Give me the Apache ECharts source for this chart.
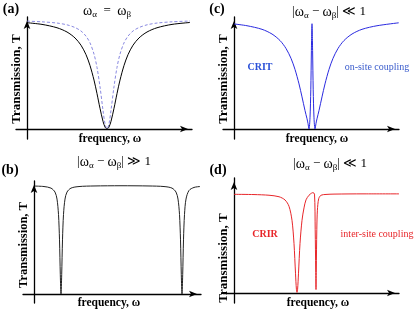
<!DOCTYPE html>
<html>
<head>
<meta charset="utf-8">
<script src="https://cdn.jsdelivr.net/npm/echarts@6.0.0/dist/echarts.min.js"></script>
<style>
html,body{margin:0;padding:0;background:#fff;}
#chart{width:415px;height:311px;}
</style>
</head>
<body>
<div id="chart"></div>
<script>
// ---- Data (frequency in arbitrary units, transmission T) ----
// Panel (a): omega_alpha = omega_beta
const aFreq  = [0,15,30,40,48,54,59,63,67,70,73,76,78,80,82,84,87,90,93,97,101,106,112,120,130,145,163];
const aBlack = [.949,.934,.904,.866,.813,.748,.664,.567,.437,.316,.185,.069,.018,0,.018,.069,.185,.316,.437,.567,.664,.748,.813,.866,.904,.934,.951];
const aBlue  = [.963,.957,.946,.930,.906,.875,.829,.769,.669,.550,.378,.167,.048,0,.048,.167,.378,.550,.669,.769,.829,.875,.906,.930,.946,.957,.964];

// Panel (b): |omega_alpha - omega_beta| >> 1
const bFreq = [1,10,17,21,23,24.5,25.5,26.3,27,27.7,28.5,29.5,31,33,37,45,60,87,115,130,138,142,144,145.5,146.5,147.3,148,148.7,149.5,150.5,152,155,160,166];
const bT    = [.955,.951,.937,.902,.840,.704,.479,.171,0,.171,.479,.704,.840,.902,.937,.951,.956,.958,.956,.951,.937,.902,.840,.704,.479,.171,0,.171,.479,.704,.840,.916,.943,.951];

// Panel (c): CRIT, on-site coupling
const cFreq = [0,13,28,38,46,52,57,61,65,68,71,73,74,75,76,76.8,77.4,78,78.6,79.2,80,81,82,83,85,88,91,95,99,104,110,118,128,143,164.7];
const cT    = [.938,.922,.890,.848,.790,.719,.631,.532,.403,.287,.165,.092,.05,0,.1,.35,.7,.94,.7,.35,.1,0,.05,.092,.165,.287,.403,.532,.631,.719,.790,.848,.890,.922,.948];

// Panel (d): CRIR, inter-site coupling
const dFreq = [0,20,35,45,51,55,58,60,61.5,62.4,63,63.6,64.5,66,68,70,72,75,77.5,79,80.5,81.2,81.7,82,82.3,82.8,83.4,84.7,87,92,100,130,165];
const dT    = [.858,.856,.850,.837,.809,.754,.632,.43,.172,.033,.005,.033,.172,.43,.632,.74,.81,.85,.868,.873,.86,.55,.2,.03,.2,.55,.72,.82,.85,.857,.86,.862,.862];

// ---- Texts ----
const panelLetters = ['(a)','(b)','(c)','(d)'];
const yLabel = 'Transmission, T';
const xLabel = 'frequency, ω';

function zip(xs, ys){ return xs.map((x,i)=>[x, ys[i]]); }

const SERIF = '"Liberation Serif","Times New Roman",serif';

// panel layout: grid box + axis ranges
const panels = [
  {left:16,  top:17,  width:176, height:122, xmin:-11, xmax:165, ymin:-0.089, ymax:1},   // a
  {left:23,  top:181, width:178, height:122, xmin:-11, xmax:167, ymin:-0.08,  ymax:1},   // b
  {left:223, top:17,  width:176, height:122, xmin:-11, xmax:165, ymin:-0.089, ymax:1},   // c
  {left:223, top:178, width:176, height:125, xmin:-11, xmax:165, ymin:-0.087, ymax:1}    // d
];

const axisLine = {
  show:true, onZero:true,
  symbol:['none','arrow'], symbolSize:[5,8], symbolOffset:[0,-4],
  lineStyle:{color:'#000', width:1.3}
};

const grids = panels.map(p=>({left:p.left, top:p.top, width:p.width, height:p.height}));
const xAxes = panels.map((p,i)=>({type:'value', gridIndex:i, min:p.xmin, max:p.xmax,
  axisLine:axisLine, axisTick:{show:false}, axisLabel:{show:false}, splitLine:{show:false}}));
const yAxes = panels.map((p,i)=>({type:'value', gridIndex:i, min:p.ymin, max:p.ymax,
  axisLine:axisLine, axisTick:{show:false}, axisLabel:{show:false}, splitLine:{show:false}}));

function lineSeries(idx, data, color, width, type){
  return {type:'line', xAxisIndex:idx, yAxisIndex:idx, data:data, showSymbol:false,
    smooth:0.3, clip:false, silent:true,
    lineStyle:{color:color, width:width, type:type||'solid'}};
}

const series = [
  lineSeries(0, zip(aFreq, aBlue), '#7c7cdc', 0.9, [3,2]),
  lineSeries(0, zip(aFreq, aBlack), '#000000', 1),
  lineSeries(1, zip(bFreq, bT), '#222222', 1),
  lineSeries(2, zip(cFreq, cT), '#2a2ae0', 1),
  lineSeries(3, zip(dFreq, dT), '#e8262a', 1)
];

function txt(x, y, text, font, fill, rot, rich){
  const st = {text:text, font:font, fill:fill||'#000', align:'center', verticalAlign:'middle',
              textAlign:'center', textVerticalAlign:'middle'};
  if (rich) st.rich = rich;
  return {type:'text', x:x, y:y, rotation:rot||0, silent:true, style:st};
}

const subRich = {
  w:{fontSize:14, fontFamily:SERIF, lineHeight:16, verticalAlign:'middle'},
  s:{fontSize:9, fontFamily:SERIF, lineHeight:16, verticalAlign:'bottom'}
};
const titleFont = '13px ' + SERIF;
const labFont = 'bold 14px ' + SERIF;
const yFont = 'bold 13px ' + SERIF;
const xFont = 'bold 11.5px ' + SERIF;

const graphics = [
  txt(11, 9, panelLetters[0], labFont),
  txt(10, 170, panelLetters[1], labFont),
  txt(217, 9, panelLetters[2], labFont),
  txt(218, 170, panelLetters[3], labFont),

  txt(107, 11, '{w|ω}{s|α}  =  {w|ω}{s|β}', titleFont, '#000', 0, subRich),
  txt(114, 162, '|{w|ω}{s|α} − {w|ω}{s|β}| ≫ 1', titleFont, '#000', 0, subRich),
  txt(329, 12, '|{w|ω}{s|α} − {w|ω}{s|β}| ≪ 1', titleFont, '#000', 0, subRich),
  txt(330, 164, '|{w|ω}{s|α} − {w|ω}{s|β}| ≪ 1', titleFont, '#000', 0, subRich),

  txt(17, 79, yLabel, yFont, '#000', Math.PI/2),
  txt(24, 245, yLabel, 'bold 12.5px ' + SERIF, '#000', Math.PI/2),
  txt(224, 79, yLabel, yFont, '#000', Math.PI/2),
  txt(224, 258, yLabel, yFont, '#000', Math.PI/2),

  txt(110, 139.5, xLabel, xFont),
  txt(109, 303, xLabel, xFont),
  txt(317, 139.5, xLabel, xFont),
  txt(318, 303, xLabel, xFont),

  txt(260, 67, 'CRIT', 'bold 10px ' + SERIF, '#2a50d8'),
  txt(377, 67, 'on-site coupling', '10px ' + SERIF, '#3a5ccc'),
  txt(265, 234, 'CRIR', 'bold 10px ' + SERIF, '#e8262a'),
  txt(377, 234, 'inter-site coupling', '10px ' + SERIF, '#e8262a')
];

const chart = echarts.init(document.getElementById('chart'), null, {renderer:'canvas'});
chart.setOption({
  animation:false,
  backgroundColor:'#fff',
  grid:grids, xAxis:xAxes, yAxis:yAxes, series:series,
  graphic:{elements:graphics}
});
</script>
</body>
</html>
